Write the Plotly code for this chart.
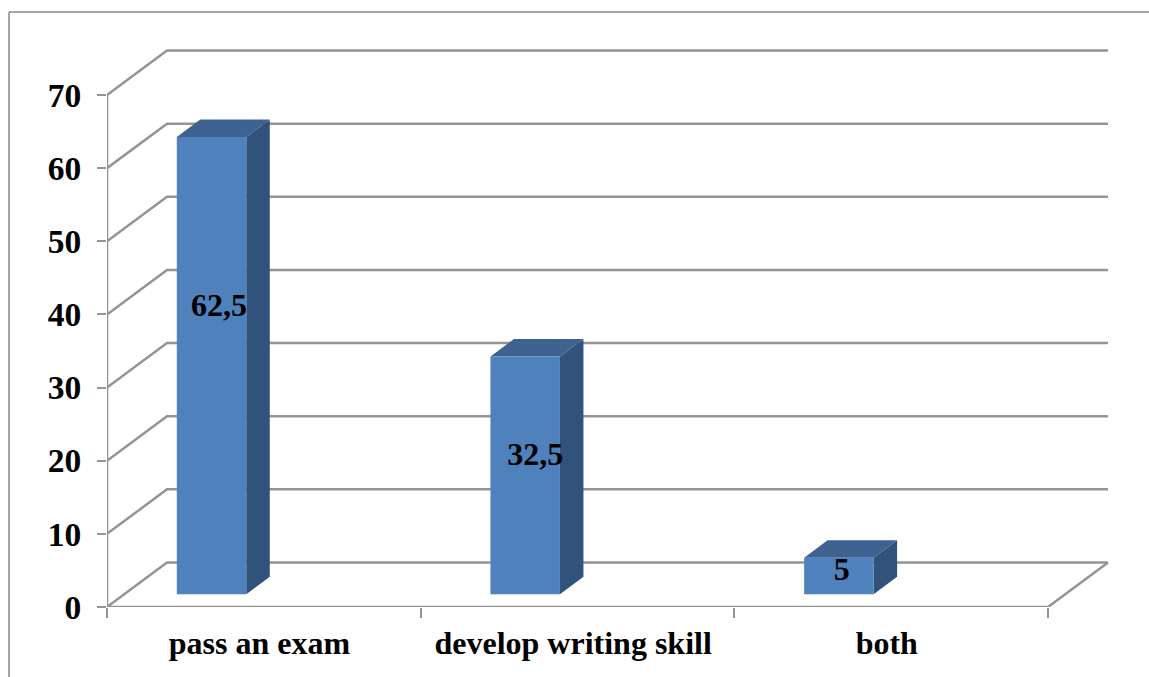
import plotly.graph_objects as go

categories = ["pass an exam", "develop writing skill", "both"]
values = [62.5, 32.5, 5]
value_labels = ["62,5", "32,5", "5"]
y_ticks = [0, 10, 20, 30, 40, 50, 60, 70]

# height of the data labels on the value axis
label_heights = [40.9, 20.5, 4.8]
label_shift = [0.024, 0.032, 0.009]

# figure geometry, x in category units and y in value units
W, H = 1149, 677
L, R, T, B = 107, 40, 12, 70
PX_X = 313.67
PX_Y = 7.314
DEPTH_X = 60 / PX_X
DEPTH_Y = 44.5 / PX_Y

# bars stand a little way into the floor
BAR_LEFT = 0.2225
BAR_W = 0.2215
BAR_DX = 23.5 / PX_X
BAR_DY = 17.5 / PX_Y
BAR_BASE = 12.8 / PX_Y

GRID = "#949494"
FRONT = "#4f81bd"
TOP = "#3e6390"
SIDE = "#31527a"
FONT = "Liberation Serif"

fig = go.Figure()


def poly(xs, ys, color):
    fig.add_trace(go.Scatter(
        x=xs, y=ys, mode="lines", fill="toself", fillcolor=color,
        line=dict(width=0, color=color), hoverinfo="skip",
        showlegend=False, cliponaxis=False,
    ))


def line(xs, ys, width=2.5):
    fig.add_trace(go.Scatter(
        x=xs, y=ys, mode="lines", line=dict(color=GRID, width=width),
        hoverinfo="skip", showlegend=False, cliponaxis=False,
    ))


# walls
n = len(categories)
for v in y_ticks:
    line([0, DEPTH_X, n + DEPTH_X], [v, v + DEPTH_Y, v + DEPTH_Y])
line([0, 0], [0, y_ticks[-1]])
line([0, n, n + DEPTH_X], [0, 0, DEPTH_Y])

# bars
for i, v in enumerate(values):
    x0 = i + BAR_LEFT
    x1 = x0 + BAR_W
    y0 = BAR_BASE
    y1 = BAR_BASE + v
    poly([x1, x1 + BAR_DX, x1 + BAR_DX, x1],
         [y0, y0 + BAR_DY, y1 + BAR_DY, y1], SIDE)
    poly([x0, x0 + BAR_DX, x1 + BAR_DX, x1],
         [y1, y1 + BAR_DY, y1 + BAR_DY, y1], TOP)
    poly([x0, x1, x1, x0], [y0, y0, y1, y1], FRONT)

# data labels
fig.add_trace(go.Scatter(
    x=[i + BAR_LEFT + BAR_W / 2 + label_shift[i] for i in range(n)],
    y=label_heights,
    mode="text",
    text=value_labels,
    textposition="middle center",
    textfont=dict(family=FONT, size=32, color="black", weight="bold"),
    hoverinfo="skip",
    showlegend=False,
    cliponaxis=False,
))

fig.update_layout(
    width=W,
    height=H,
    margin=dict(l=L, r=R, t=T, b=B, autoexpand=False),
    paper_bgcolor="white",
    plot_bgcolor="white",
    showlegend=False,
    font=dict(family=FONT, color="black"),
    xaxis=dict(
        range=[0, (W - L - R) / PX_X],
        tickmode="array",
        tickvals=[i + 0.486 for i in range(n)],
        ticktext=categories,
        ticks="",
        tickfont=dict(family=FONT, size=32, color="black", weight="bold"),
        ticklabelstandoff=14,
        showgrid=False,
        zeroline=False,
        showline=False,
        minor=dict(tickmode="array", tickvals=list(range(n + 1)), ticks="outside",
                   ticklen=10, tickwidth=2, tickcolor=GRID, showgrid=False),
    ),
    yaxis=dict(
        range=[0, (H - T - B) / PX_Y],
        tickmode="array",
        tickvals=y_ticks,
        ticks="outside",
        ticklen=9,
        tickwidth=2,
        tickcolor=GRID,
        tickfont=dict(family=FONT, size=33.5, color="black", weight="bold"),
        ticklabelstandoff=9,
        showgrid=False,
        zeroline=False,
        showline=False,
    ),
    # chart frame, open on the right and at the bottom
    shapes=[
        dict(type="line", xref="paper", yref="paper",
             x0=(9 - L) / (W - L - R), x1=(W - L) / (W - L - R), y0=1, y1=1,
             line=dict(color="#868686", width=1.5)),
        dict(type="line", xref="paper", yref="paper",
             x0=(9 - L) / (W - L - R), x1=(9 - L) / (W - L - R),
             y0=-B / (H - T - B), y1=1,
             line=dict(color="#868686", width=1.5)),
    ],
)

# the page's default body margin would push the chart 8px down and right
fig.write_html(
    "out.html",
    config=dict(displayModeBar=False),
    post_script="document.body.style.margin = '0';",
)
